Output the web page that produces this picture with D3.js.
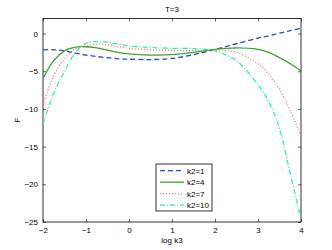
<!DOCTYPE html>
<html lang="en">
<head>
<meta charset="utf-8">
<title>T=3</title>
<script src="https://cdn.jsdelivr.net/npm/d3@7"></script>
<style>
  body { margin: 0; background: #fff; }
  text { font-family: "Liberation Sans", Arial, sans-serif; }
</style>
</head>
<body>
<svg id="chart" width="332" height="250"></svg>
<script>

var logk3 = [-2, -1.75, -1.5, -1.25, -1, -0.75, -0.5, -0.25, 0, 0.5, 1, 1.5, 2, 2.5, 3, 3.25, 3.5, 3.75, 4]

var k2_1  = [-2.15, -2.15, -2.3, -2.6, -2.85, -3.05, -3.2, -3.35, -3.4, -3.45, -3.3, -2.8, -2.1, -1.35, -0.6, -0.3, 0.05, 0.4, 0.7]
var k2_4  = [-5.95, -3.6, -2.3, -1.8, -1.75, -1.9, -2.2, -2.5, -2.7, -2.85, -2.8, -2.5, -2.1, -1.9, -2.1, -2.5, -3.2, -4.0, -4.95]
var k2_7  = [-9.4, -5.6, -3.35, -2.05, -1.6, -1.4, -1.5, -1.75, -1.95, -2.15, -2.25, -2.25, -2.15, -2.5, -4.0, -5.4, -7.4, -10.2, -13.7]
var k2_10 = [-12, -7.9, -5.0, -2.55, -1.3, -1.05, -1.15, -1.4, -1.65, -1.85, -1.95, -2.0, -2.3, -3.6, -6.8, -9.0, -12.6, -18.6, -24.5]

var xTicks = [-2, -1, 0, 1, 2, 3, 4]
var yTicks = [-25, -20, -15, -10, -5, 0]

var series = [
  {name: "k2=1",  values: k2_1,  color: "#2346e6", dash: "5,3"},
  {name: "k2=4",  values: k2_4,  color: "#3aa52a", dash: null},
  {name: "k2=7",  values: k2_7,  color: "#ff6b6b", dash: "1,2"},
  {name: "k2=10", values: k2_10, color: "#2cf0a8", dash: "5,2,1,2"}
]

var svg = d3.select("#chart"),
    margin = {top: 18.5, left: 43, bottom: 28, right: 31},
    width = +svg.attr("width"),
    height = +svg.attr("height")

var x = d3.scaleLinear().domain([-2, 4]).range([margin.left, width - margin.right])
var y = d3.scaleLinear().domain([-25, 2]).range([height - margin.bottom, margin.top])

var clip = svg.append("clipPath").attr("id", "plot")
  .append("rect")
    .attr("x", x(-2)).attr("y", y(2))
    .attr("width", x(4) - x(-2)).attr("height", y(-25) - y(2))

// inward ticks on all four sides, like matlab
svg.append("g")
    .attr("transform", `translate(0,${y(-25)})`)
    .call(d3.axisBottom(x).tickValues(xTicks).tickSize(-3).tickPadding(5)
      .tickFormat(d => d < 0 ? "\u2212" + (-d) : d))
svg.append("g")
    .attr("transform", `translate(0,${y(2)})`)
    .call(d3.axisTop(x).tickValues(xTicks).tickSize(-3).tickFormat(""))
svg.append("g")
    .attr("transform", `translate(${x(-2)},0)`)
    .call(d3.axisLeft(y).tickValues(yTicks).tickSize(-3).tickPadding(5)
      .tickFormat(d => d < 0 ? "\u2212" + (-d) : d))
svg.append("g")
    .attr("transform", `translate(${x(4)},0)`)
    .call(d3.axisRight(y).tickValues(yTicks).tickSize(-3).tickFormat(""))

svg.selectAll(".domain").remove()
svg.selectAll(".tick line").attr("stroke", "#000").attr("stroke-width", 0.6)
svg.selectAll(".tick text").attr("font-size", "8px").attr("fill", "#000")
  .attr("font-family", "Liberation Sans, Arial, sans-serif")

svg.append("rect")
    .attr("x", x(-2)).attr("y", y(2))
    .attr("width", x(4) - x(-2)).attr("height", y(-25) - y(2))
    .attr("fill", "none").attr("stroke", "#000").attr("stroke-width", 0.8)

var line = d3.line()
    .x((d, i) => x(logk3[i]))
    .y(d => y(d))
    .curve(d3.curveCatmullRom)

svg.append("g").attr("clip-path", "url(#plot)")
  .selectAll("path")
  .data(series)
  .enter().append("path")
    .attr("d", d => line(d.values))
    .attr("fill", "none")
    .attr("stroke", d => d.color)
    .attr("stroke-width", 1.3)
    .attr("stroke-dasharray", d => d.dash)

svg.append("text")
    .attr("x", (x(-2) + x(4)) / 2)
    .attr("y", 12)
    .attr("text-anchor", "middle")
    .attr("font-size", "8px")
    .text("T=3")

svg.append("text")
    .attr("x", (x(-2) + x(4)) / 2)
    .attr("y", 243)
    .attr("text-anchor", "middle")
    .attr("font-size", "8px")
    .text("log k3")

svg.append("text")
    .attr("transform", `translate(20,${(y(2) + y(-25)) / 2}) rotate(-90)`)
    .attr("text-anchor", "middle")
    .attr("font-size", "8px")
    .text("F")

// legend
var lg = svg.append("g").attr("transform", "translate(156,164)")
lg.append("rect")
    .attr("width", 56).attr("height", 47)
    .attr("fill", "#fff").attr("stroke", "#000").attr("stroke-width", 0.8)

var item = lg.selectAll(".item")
  .data(series)
  .enter().append("g")
    .attr("transform", (d, i) => `translate(0,${6.7 + i * 11.5})`)
item.append("line")
    .attr("x1", 4).attr("x2", 28)
    .attr("stroke", d => d.color)
    .attr("stroke-width", 1.3)
    .attr("stroke-dasharray", d => d.dash)
item.append("text")
    .attr("x", 31).attr("y", 3)
    .attr("font-size", "8px")
    .text(d => d.name)

</script>
</body>
</html>
